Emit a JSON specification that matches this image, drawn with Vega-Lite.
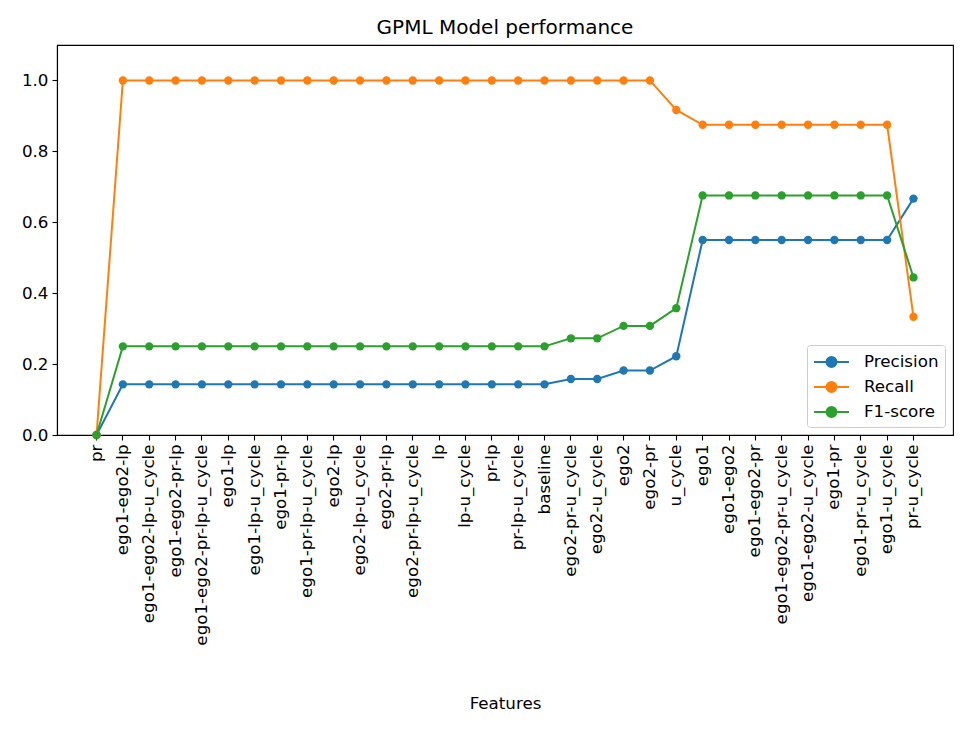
{
  "$schema": "https://vega.github.io/schema/vega-lite/v6.json",
  "autosize": "none",
  "padding": {"left": 57, "top": 45, "right": 24, "bottom": 296},
  "width": 896,
  "height": 390,
  "background": "white",
  "title": {"text": "GPML Model performance", "fontSize": 20, "font": "DejaVu Sans", "fontWeight": "normal", "color": "black", "offset": 7},
  "config": {
    "font": "DejaVu Sans",
    "view": {"stroke": "black", "strokeWidth": 1.1},
    "axis": {"grid": false, "domainColor": "black", "tickColor": "black", "labelColor": "black", "titleColor": "black", "labelFont": "DejaVu Sans", "titleFont": "DejaVu Sans", "labelFontSize": 16.7, "titleFontSize": 16.7, "titleFontWeight": "normal", "tickSize": 5, "labelPadding": 4, "domainWidth": 1.1, "tickWidth": 1.1, "labelLimit": 400}
  },
  "data": {"values": [
    {"feature": "pr", "metric": "Precision", "value": 0},
    {"feature": "pr", "metric": "Recall", "value": 0},
    {"feature": "pr", "metric": "F1-score", "value": 0},
    {"feature": "ego1-ego2-lp", "metric": "Precision", "value": 0.1429},
    {"feature": "ego1-ego2-lp", "metric": "Recall", "value": 1},
    {"feature": "ego1-ego2-lp", "metric": "F1-score", "value": 0.25},
    {"feature": "ego1-ego2-lp-u_cycle", "metric": "Precision", "value": 0.1429},
    {"feature": "ego1-ego2-lp-u_cycle", "metric": "Recall", "value": 1},
    {"feature": "ego1-ego2-lp-u_cycle", "metric": "F1-score", "value": 0.25},
    {"feature": "ego1-ego2-pr-lp", "metric": "Precision", "value": 0.1429},
    {"feature": "ego1-ego2-pr-lp", "metric": "Recall", "value": 1},
    {"feature": "ego1-ego2-pr-lp", "metric": "F1-score", "value": 0.25},
    {"feature": "ego1-ego2-pr-lp-u_cycle", "metric": "Precision", "value": 0.1429},
    {"feature": "ego1-ego2-pr-lp-u_cycle", "metric": "Recall", "value": 1},
    {"feature": "ego1-ego2-pr-lp-u_cycle", "metric": "F1-score", "value": 0.25},
    {"feature": "ego1-lp", "metric": "Precision", "value": 0.1429},
    {"feature": "ego1-lp", "metric": "Recall", "value": 1},
    {"feature": "ego1-lp", "metric": "F1-score", "value": 0.25},
    {"feature": "ego1-lp-u_cycle", "metric": "Precision", "value": 0.1429},
    {"feature": "ego1-lp-u_cycle", "metric": "Recall", "value": 1},
    {"feature": "ego1-lp-u_cycle", "metric": "F1-score", "value": 0.25},
    {"feature": "ego1-pr-lp", "metric": "Precision", "value": 0.1429},
    {"feature": "ego1-pr-lp", "metric": "Recall", "value": 1},
    {"feature": "ego1-pr-lp", "metric": "F1-score", "value": 0.25},
    {"feature": "ego1-pr-lp-u_cycle", "metric": "Precision", "value": 0.1429},
    {"feature": "ego1-pr-lp-u_cycle", "metric": "Recall", "value": 1},
    {"feature": "ego1-pr-lp-u_cycle", "metric": "F1-score", "value": 0.25},
    {"feature": "ego2-lp", "metric": "Precision", "value": 0.1429},
    {"feature": "ego2-lp", "metric": "Recall", "value": 1},
    {"feature": "ego2-lp", "metric": "F1-score", "value": 0.25},
    {"feature": "ego2-lp-u_cycle", "metric": "Precision", "value": 0.1429},
    {"feature": "ego2-lp-u_cycle", "metric": "Recall", "value": 1},
    {"feature": "ego2-lp-u_cycle", "metric": "F1-score", "value": 0.25},
    {"feature": "ego2-pr-lp", "metric": "Precision", "value": 0.1429},
    {"feature": "ego2-pr-lp", "metric": "Recall", "value": 1},
    {"feature": "ego2-pr-lp", "metric": "F1-score", "value": 0.25},
    {"feature": "ego2-pr-lp-u_cycle", "metric": "Precision", "value": 0.1429},
    {"feature": "ego2-pr-lp-u_cycle", "metric": "Recall", "value": 1},
    {"feature": "ego2-pr-lp-u_cycle", "metric": "F1-score", "value": 0.25},
    {"feature": "lp", "metric": "Precision", "value": 0.1429},
    {"feature": "lp", "metric": "Recall", "value": 1},
    {"feature": "lp", "metric": "F1-score", "value": 0.25},
    {"feature": "lp-u_cycle", "metric": "Precision", "value": 0.1429},
    {"feature": "lp-u_cycle", "metric": "Recall", "value": 1},
    {"feature": "lp-u_cycle", "metric": "F1-score", "value": 0.25},
    {"feature": "pr-lp", "metric": "Precision", "value": 0.1429},
    {"feature": "pr-lp", "metric": "Recall", "value": 1},
    {"feature": "pr-lp", "metric": "F1-score", "value": 0.25},
    {"feature": "pr-lp-u_cycle", "metric": "Precision", "value": 0.1429},
    {"feature": "pr-lp-u_cycle", "metric": "Recall", "value": 1},
    {"feature": "pr-lp-u_cycle", "metric": "F1-score", "value": 0.25},
    {"feature": "baseline", "metric": "Precision", "value": 0.1429},
    {"feature": "baseline", "metric": "Recall", "value": 1},
    {"feature": "baseline", "metric": "F1-score", "value": 0.25},
    {"feature": "ego2-pr-u_cycle", "metric": "Precision", "value": 0.1579},
    {"feature": "ego2-pr-u_cycle", "metric": "Recall", "value": 1},
    {"feature": "ego2-pr-u_cycle", "metric": "F1-score", "value": 0.2727},
    {"feature": "ego2-u_cycle", "metric": "Precision", "value": 0.1579},
    {"feature": "ego2-u_cycle", "metric": "Recall", "value": 1},
    {"feature": "ego2-u_cycle", "metric": "F1-score", "value": 0.2727},
    {"feature": "ego2", "metric": "Precision", "value": 0.1818},
    {"feature": "ego2", "metric": "Recall", "value": 1},
    {"feature": "ego2", "metric": "F1-score", "value": 0.3077},
    {"feature": "ego2-pr", "metric": "Precision", "value": 0.1818},
    {"feature": "ego2-pr", "metric": "Recall", "value": 1},
    {"feature": "ego2-pr", "metric": "F1-score", "value": 0.3077},
    {"feature": "u_cycle", "metric": "Precision", "value": 0.2222},
    {"feature": "u_cycle", "metric": "Recall", "value": 0.9167},
    {"feature": "u_cycle", "metric": "F1-score", "value": 0.3577},
    {"feature": "ego1", "metric": "Precision", "value": 0.55},
    {"feature": "ego1", "metric": "Recall", "value": 0.875},
    {"feature": "ego1", "metric": "F1-score", "value": 0.6757},
    {"feature": "ego1-ego2", "metric": "Precision", "value": 0.55},
    {"feature": "ego1-ego2", "metric": "Recall", "value": 0.875},
    {"feature": "ego1-ego2", "metric": "F1-score", "value": 0.6757},
    {"feature": "ego1-ego2-pr", "metric": "Precision", "value": 0.55},
    {"feature": "ego1-ego2-pr", "metric": "Recall", "value": 0.875},
    {"feature": "ego1-ego2-pr", "metric": "F1-score", "value": 0.6757},
    {"feature": "ego1-ego2-pr-u_cycle", "metric": "Precision", "value": 0.55},
    {"feature": "ego1-ego2-pr-u_cycle", "metric": "Recall", "value": 0.875},
    {"feature": "ego1-ego2-pr-u_cycle", "metric": "F1-score", "value": 0.6757},
    {"feature": "ego1-ego2-u_cycle", "metric": "Precision", "value": 0.55},
    {"feature": "ego1-ego2-u_cycle", "metric": "Recall", "value": 0.875},
    {"feature": "ego1-ego2-u_cycle", "metric": "F1-score", "value": 0.6757},
    {"feature": "ego1-pr", "metric": "Precision", "value": 0.55},
    {"feature": "ego1-pr", "metric": "Recall", "value": 0.875},
    {"feature": "ego1-pr", "metric": "F1-score", "value": 0.6757},
    {"feature": "ego1-pr-u_cycle", "metric": "Precision", "value": 0.55},
    {"feature": "ego1-pr-u_cycle", "metric": "Recall", "value": 0.875},
    {"feature": "ego1-pr-u_cycle", "metric": "F1-score", "value": 0.6757},
    {"feature": "ego1-u_cycle", "metric": "Precision", "value": 0.55},
    {"feature": "ego1-u_cycle", "metric": "Recall", "value": 0.875},
    {"feature": "ego1-u_cycle", "metric": "F1-score", "value": 0.6757},
    {"feature": "pr-u_cycle", "metric": "Precision", "value": 0.6667},
    {"feature": "pr-u_cycle", "metric": "Recall", "value": 0.3333},
    {"feature": "pr-u_cycle", "metric": "F1-score", "value": 0.4444}
  ]},
  "encoding": {
    "x": {
      "field": "feature", "type": "ordinal",
      "bandPosition": 0.5,
      "sort": ["pr", "ego1-ego2-lp", "ego1-ego2-lp-u_cycle", "ego1-ego2-pr-lp", "ego1-ego2-pr-lp-u_cycle", "ego1-lp", "ego1-lp-u_cycle", "ego1-pr-lp", "ego1-pr-lp-u_cycle", "ego2-lp", "ego2-lp-u_cycle", "ego2-pr-lp", "ego2-pr-lp-u_cycle", "lp", "lp-u_cycle", "pr-lp", "pr-lp-u_cycle", "baseline", "ego2-pr-u_cycle", "ego2-u_cycle", "ego2", "ego2-pr", "u_cycle", "ego1", "ego1-ego2", "ego1-ego2-pr", "ego1-ego2-pr-u_cycle", "ego1-ego2-u_cycle", "ego1-pr", "ego1-pr-u_cycle", "ego1-u_cycle", "pr-u_cycle"],
      "scale": {"type": "band", "paddingInner": 0, "paddingOuter": 1.05},
      "axis": {"title": "Features", "labelAngle": -90, "titleY": 268, "titleBaseline": "middle"}
    },
    "y": {
      "field": "value", "type": "quantitative",
      "scale": {"domain": [0, 1.1], "nice": false, "zero": false},
      "axis": {"title": null, "values": [0, 0.2, 0.4, 0.6, 0.8, 1.0], "format": ".1f"}
    },
    "color": {
      "field": "metric", "type": "nominal",
      "sort": ["Precision", "Recall", "F1-score"],
      "scale": {"domain": ["Precision", "Recall", "F1-score"], "range": ["#1f77b4", "#ff7f0e", "#2ca02c"]},
      "legend": {
        "title": null,
        "orient": "bottom-right",
        "offset": 8,
        "padding": 6,
        "fillColor": "white",
        "strokeColor": "#cccccc",
        "cornerRadius": 3,
        "labelFontSize": 16.7,
        "labelFont": "DejaVu Sans",
        "labelColor": "black",
        "symbolType": "M-1,0H2.5M0.25,0A0.5,0.5,0,1,1,1.25,0A0.5,0.5,0,1,1,0.25,0Z",
        "symbolSize": 400,
        "symbolStrokeWidth": 2,
        "labelOffset": 29,
        "rowPadding": 5,
        "encode": {"symbols": {"update": {"fill": {"scale": "color", "field": "value"}, "stroke": {"scale": "color", "field": "value"}, "opacity": {"value": 1}}}}
      }
    }
  },
  "layer": [
    {"mark": {"type": "line", "strokeWidth": 2}},
    {"mark": {"type": "point", "filled": true, "size": 70, "opacity": 1}}
  ]
}
